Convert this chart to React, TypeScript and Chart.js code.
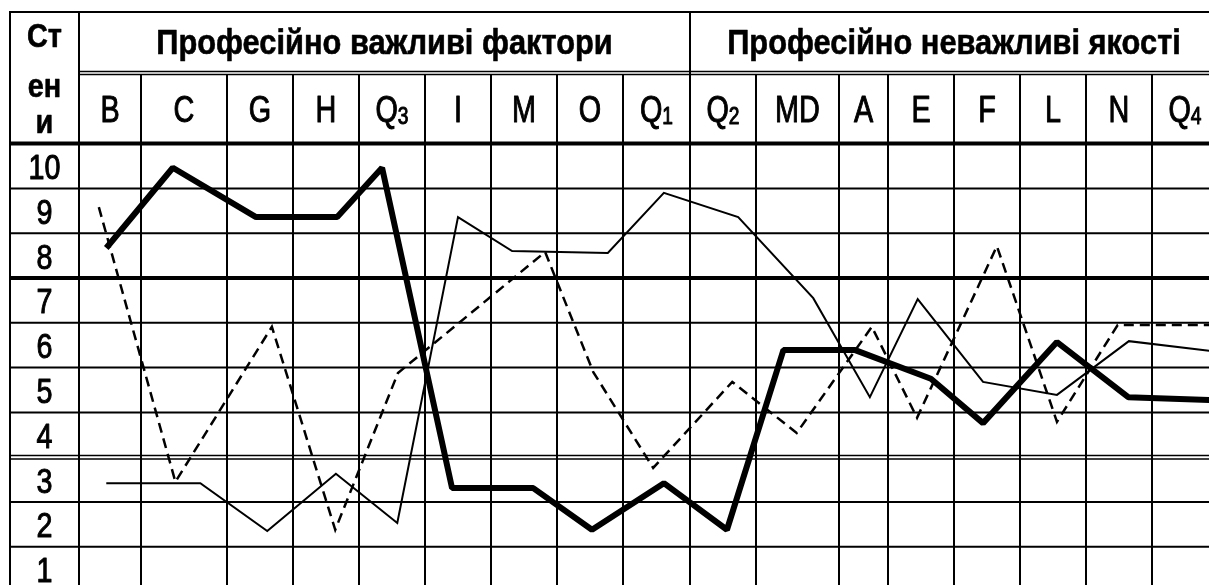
import { useEffect, useRef } from "react";
import { Chart, registerables } from "chart.js";

Chart.register(...registerables);

// ---- data ----
const categories = ["B", "C", "G", "H", "Q3", "I", "M", "O", "Q1", "Q2", "MD", "A", "E", "F", "L", "N", "Q4"];
const groupTitles = ["Професійно важливі фактори", "Професійно неважливі якості"];
const groupSizes = [9, 8];
const rowLabels = [10, 9, 8, 7, 6, 5, 4, 3, 2, 1];
const cornerLabel = ["Ст", "ен", "и"];

// values (стени)
const thickValues = [8.17, 9.96, 8.86, 8.86, 9.96, 2.81, 2.81, 1.88, 2.92, 1.88, 5.89, 5.89, 5.25, 4.26, 6.07, 4.84, 4.77];
const thinValues = [2.92, 2.92, 1.85, 3.13, 2.03, 8.86, 8.1, 8.06, 9.4, 8.86, 7.05, 4.84, 7.03, 5.18, 4.89, 6.09, 5.85];
const dashedValues = [9.08, 2.95, 6.41, 1.88, 5.38, 6.48, 8.08, 5.4, 3.26, 5.18, 4.04, 6.41, 4.38, 8.21, 4.29, 6.45, 6.45];

// where each point sits inside its column (0 = left border, 1 = right border)
const thickPos = [0.44, 0.37, 0.44, 0.67, 0.35, 0.41, 0.64, 0.53, 0.61, 0.56, 0.33, 0.33, 0.65, 0.44, 0.56, 0.64, 1];
const thinPos = [0.44, 0.69, 0.61, 0.65, 0.58, 0.5, 0.32, 0.77, 0.61, 0.73, 0.69, 0.63, 0.45, 0.44, 0.56, 0.65, 1];
const dashedPos = [0.32, 0.4, 0.68, 0.64, 0.59, 0.5, 0.82, 0.55, 0.45, 0.64, 0.49, 0.67, 0.44, 0.65, 0.56, 0.48, 1];

// ---- layout ----
const colWidths = [62, 86, 66, 66, 66, 66, 66, 66, 67, 66, 83, 49, 66, 66, 66, 66, 66];
const visibleWidth = 1130;
const yMin = 0.647;
const yMax = 10.513;
const thickBoundary = 7.5;
const doubleBoundary = 3.5;
const W = 1209;
const H = 585;
const tableLeft = 10;
const firstColRight = 79;
const tableTop = 12;
const headerMid = 73;
const gridTop = 143;
const FONT = '"Liberation Sans", Arial, sans-serif';

const colStarts: number[] = [];
{
  let acc = 0;
  colWidths.forEach((w) => {
    colStarts.push(acc);
    acc += w;
  });
}
const pts = (vals: number[], pos: number[]) =>
  vals.map((v, i) => ({ x: colStarts[i] + pos[i] * colWidths[i], y: v }));

function drawText(
  ctx: CanvasRenderingContext2D,
  text: string,
  cx: number,
  base: number,
  font: string,
  sx: number,
  stroke = 0
) {
  ctx.save();
  ctx.font = font;
  ctx.textAlign = "center";
  ctx.textBaseline = "alphabetic";
  ctx.translate(cx, base);
  ctx.scale(sx, 1);
  ctx.fillText(text, 0, 0);
  if (stroke > 0) {
    ctx.lineWidth = stroke;
    ctx.lineJoin = "round";
    ctx.strokeText(text, 0, 0);
  }
  ctx.restore();
}

const tablePlugin = {
  id: "tableGrid",
  beforeDatasetsDraw(chart: any) {
    const ctx: CanvasRenderingContext2D = chart.ctx;
    const xs = chart.scales.x;
    const ys = chart.scales.y;
    ctx.save();
    ctx.strokeStyle = "#000";
    ctx.fillStyle = "#000";
    ctx.lineCap = "butt";
    const hline = (y: number, x1: number, x2: number, w: number) => {
      ctx.lineWidth = w;
      ctx.beginPath();
      ctx.moveTo(x1, y);
      ctx.lineTo(x2, y);
      ctx.stroke();
    };
    const vline = (x: number, y1: number, y2: number, w: number) => {
      ctx.lineWidth = w;
      ctx.beginPath();
      ctx.moveTo(x, y1);
      ctx.lineTo(x, y2);
      ctx.stroke();
    };
    const bounds = [0, ...colStarts.slice(1), colStarts[colStarts.length - 1] + colWidths[colWidths.length - 1]];
    const bx = bounds.map((b) => xs.getPixelForValue(b));

    // horizontal lines
    hline(tableTop, tableLeft - 1, W, 2);
    hline(headerMid - 1.5, bx[0], W, 1.5);
    hline(headerMid + 1.5, bx[0], W, 1.5);
    hline(ys.getPixelForValue(rowLabels[0] + 0.5), tableLeft - 1, W, 4);
    for (let i = 1; i < rowLabels.length; i++) {
      const v = rowLabels[i] + 0.5;
      const y = ys.getPixelForValue(v);
      if (v === thickBoundary) hline(y, tableLeft - 1, W, 4);
      else if (v === doubleBoundary) {
        hline(y - 1.7, tableLeft - 1, W, 1.5);
        hline(y + 1.7, tableLeft - 1, W, 1.5);
      } else hline(y, tableLeft - 1, W, 2);
    }

    // vertical lines
    vline(tableLeft, tableTop, H, 2);
    vline(firstColRight, tableTop, H, 2);
    let groupEnd = 0;
    const groupBounds = groupSizes.map((s) => (groupEnd += s));
    for (let i = 1; i < bx.length; i++) {
      const isGroup = groupBounds.includes(i);
      vline(bx[i], isGroup ? tableTop : headerMid + 1.5, H, 2);
    }

    // corner label
    const cornerBases = [47, 97, 133];
    cornerLabel.forEach((t, i) =>
      drawText(ctx, t, (tableLeft + firstColRight) / 2, cornerBases[i], `bold 34px ${FONT}`, 0.85, 0.6)
    );

    // group titles
    let start = 0;
    groupSizes.forEach((s, gi) => {
      const cx = (bx[start] + bx[start + s]) / 2;
      drawText(ctx, groupTitles[gi], cx, 54, `bold 35px ${FONT}`, 0.88, 0.6);
      start += s;
    });

    // category labels
    categories.forEach((c, i) => {
      const cx = (bx[i] + bx[i + 1]) / 2;
      const m = c.match(/^Q(\d)$/);
      const sx = 0.8;
      if (m) {
        ctx.save();
        ctx.textBaseline = "alphabetic";
        ctx.textAlign = "left";
        ctx.lineWidth = 1;
        ctx.lineJoin = "round";
        ctx.font = `36px ${FONT}`;
        const wq = ctx.measureText("Q").width * sx;
        ctx.font = `24px ${FONT}`;
        const wd = ctx.measureText(m[1]).width * sx;
        const x0 = cx - (wq + wd) / 2;
        ctx.translate(x0, 122);
        ctx.scale(sx, 1);
        ctx.font = `36px ${FONT}`;
        ctx.fillText("Q", 0, 0);
        ctx.strokeText("Q", 0, 0);
        ctx.font = `24px ${FONT}`;
        ctx.fillText(m[1], wq / sx, 2);
        ctx.strokeText(m[1], wq / sx, 2);
        ctx.restore();
      } else {
        drawText(ctx, c, cx, 122, `36px ${FONT}`, sx, 1);
      }
    });

    // row labels
    rowLabels.forEach((v) => {
      drawText(ctx, String(v), (tableLeft + firstColRight) / 2, ys.getPixelForValue(v) + 13, `35px ${FONT}`, 0.82, 1);
    });
    ctx.restore();
  },
};

export default function App() {
  const ref = useRef<HTMLCanvasElement | null>(null);
  useEffect(() => {
    if (!ref.current) return;
    const chart = new Chart(ref.current, {
      type: "line",
      data: {
        datasets: [
          {
            label: "dashed",
            data: pts(dashedValues, dashedPos),
            borderColor: "#000",
            borderWidth: 2.5,
            borderDash: [10, 6],
            pointRadius: 0,
            tension: 0,
            fill: false,
            clip: false,
          },
          {
            label: "thin",
            data: pts(thinValues, thinPos),
            borderColor: "#000",
            borderWidth: 2,
            pointRadius: 0,
            tension: 0,
            fill: false,
            clip: false,
          },
          {
            label: "thick",
            data: pts(thickValues, thickPos),
            borderColor: "#000",
            borderWidth: 6,
            borderJoinStyle: "bevel",
            pointRadius: 0,
            tension: 0,
            fill: false,
            clip: false,
          },
        ] as any,
      },
      options: {
        animation: false,
        responsive: false,
        devicePixelRatio: 1,
        layout: { padding: { left: firstColRight, top: gridTop, right: 0, bottom: 0 } },
        scales: {
          x: { type: "linear", min: 0, max: visibleWidth, display: false },
          y: { type: "linear", min: yMin, max: yMax, display: false },
        },
        plugins: { legend: { display: false }, tooltip: { enabled: false } },
        events: [],
      },
      plugins: [tablePlugin],
    });
    return () => chart.destroy();
  }, []);
  return (
    <div style={{ position: "fixed", left: 0, top: 0, width: W, height: H, background: "#fff" }}>
      <canvas ref={ref} width={W} height={H} style={{ display: "block", width: W, height: H }} />
    </div>
  );
}
